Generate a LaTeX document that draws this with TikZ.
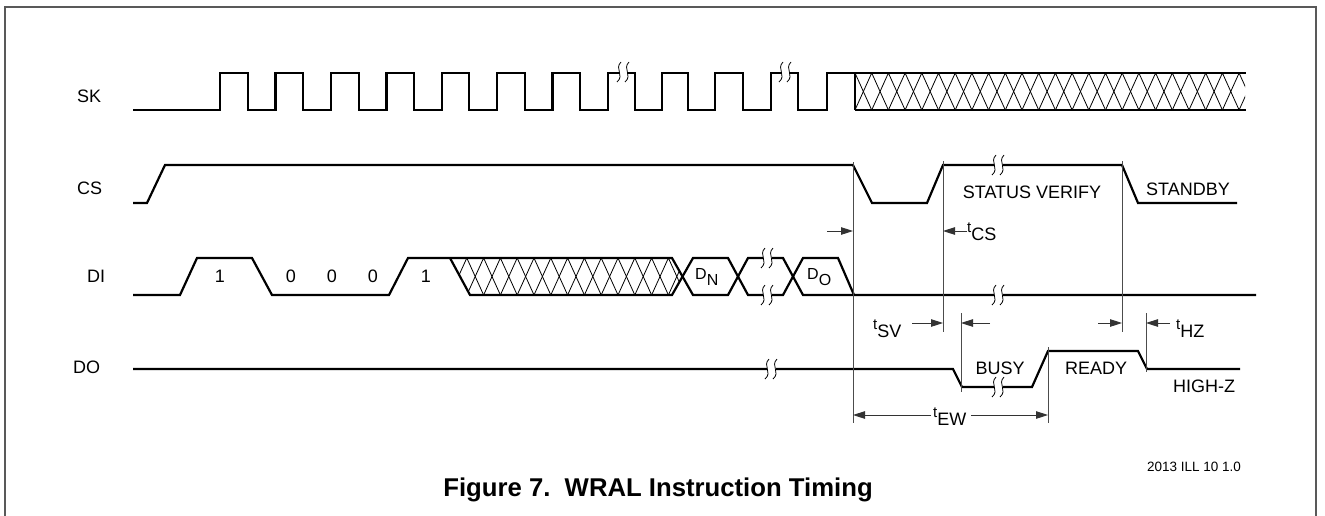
\documentclass[tikz,border=0pt]{standalone}
\usepackage{fontspec}
\setmainfont{Liberation Sans}
\usetikzlibrary{arrows.meta}
\newcommand\brkmark[2]{%
  \fill[white] (#1-4.5,#2-2.2) rectangle (#1+4.5,#2+2.2);
  \draw[brk] (#1-2,#2-10) .. controls (#1-9,#2-3) and (#1+2,#2+3) .. (#1-6,#2+10);
  \draw[brk] (#1+6,#2-10) .. controls (#1-1,#2-3) and (#1+10,#2+3) .. (#1+2,#2+10);
}
\newcommand\tlab[1]{\raisebox{8pt}{\fontsize{15}{15}\selectfont t}#1}
\begin{document}
\begin{tikzpicture}[x=1pt,y=-1pt,
  sig/.style={line width=2.2pt, line join=miter},
  thinl/.style={line width=0.9pt, black!70},
  hatchl/.style={line width=0.8pt},
  brk/.style={line width=0.8pt},
  arr/.style={line width=0.9pt, black!80, -{Triangle[length=12pt,width=7.5pt]}},
  lbl/.style={font=\fontsize{18}{18}\selectfont, inner sep=0pt},
  sublbl/.style={font=\fontsize{18}{18}\selectfont, inner sep=0pt, anchor=base west},
  dlbl/.style={font=\fontsize{16}{16}\selectfont, inner sep=0pt, anchor=base west}
]
\useasboundingbox (0,0) rectangle (1325,515);
% frame
\draw[line width=1.3pt, black!65] (5,516) -- (5,7) -- (1316,7) -- (1316,516);

% signal names
\node[lbl, anchor=base west] (nSK) at (77,102) {SK};
\node[lbl, anchor=base west] (nCS) at (77,194) {CS};
\node[lbl, anchor=base west] (nDI) at (87,282) {DI};
\node[lbl, anchor=base west] (nDO) at (73,373) {DO};

% ---------- SK ----------
\draw[sig] (133,110) -- (220,110) -- (220,73) -- (248,73) -- (248,110) -- (275.5,110) -- (275.5,73) -- (303,73) -- (303,110)
  -- (331,110) -- (331,73) -- (359,73) -- (359,110) -- (386.5,110) -- (386.5,73) -- (414,73) -- (414,110)
  -- (442,110) -- (442,73) -- (469,73) -- (469,110) -- (497,110) -- (497,73) -- (525,73) -- (525,110)
  -- (552.5,110) -- (552.5,73) -- (580,73) -- (580,110) -- (608,110) -- (608,73) -- (635,73) -- (635,110)
  -- (662,110) -- (662,73) -- (688,73) -- (688,110) -- (715,110) -- (715,73) -- (743,73) -- (743,110)
  -- (771,110) -- (771,73) -- (798,73) -- (798,110) -- (827,110) -- (827,73) -- (855,73) -- (855,110);
\begin{scope}
  \clip (855,73) rectangle (1245,110);
  \foreach \i in {0,...,24} {
    \draw[hatchl] (855+\i*16.7,73) -- ++(16.7,37) (855+\i*16.7,73) -- ++(-16.7,37);
  }
\end{scope}
\draw[sig] (855,73) -- (1246,73);
\draw[sig] (855,110) -- (1246,110);
\brkmark{623}{72}
\brkmark{785}{72}

% ---------- CS ----------
\draw[sig] (133,203) -- (147,203) -- (165,165) -- (853,165) -- (872,203) -- (927,203) -- (943,165)
  -- (1122,165) -- (1138,203) -- (1237,203);
\brkmark{998}{165}
\node[lbl, anchor=base] (sv) at (1032,198) {STATUS VERIFY};
\node[lbl, anchor=base] (sb) at (1188,195) {STANDBY};

% ---------- DI ----------
\begin{scope}
  \clip (450,258) -- (672,258) -- (682.5,276.5) -- (672,295) -- (470,295) -- cycle;
  \foreach \i in {0,...,15} {
    \draw[hatchl] (450+\i*16.8,258) -- ++(16.8,37) (450+\i*16.8,258) -- ++(-16.8,37);
  }
\end{scope}
\draw[sig] (133,295) -- (180,295) -- (197,258) -- (252,258) -- (272,295) -- (389,295) -- (408,258)
  -- (672,258) -- (693,295) -- (728,295) -- (748,258) -- (783,258) -- (803,295) -- (1256,295);
\draw[sig] (450,258) -- (470,295) -- (672,295) -- (693,258) -- (728,258) -- (748,295) -- (783,295)
  -- (803,258) -- (838,258) -- (854,295);
\brkmark{767}{258}
\brkmark{767}{295}
\brkmark{998}{295}
\node[lbl, anchor=base] (b1) at (220,282) {1};
\node[lbl, anchor=base] (b2) at (291,282) {0};
\node[lbl, anchor=base] (b3) at (332,282) {0};
\node[lbl, anchor=base] (b4) at (373,282) {0};
\node[lbl, anchor=base] (b5) at (426,282) {1};
\node[dlbl] (dn) at (695,279) {D\raisebox{-6.5pt}{N}};
\node[dlbl] (do) at (807,279) {D\raisebox{-6.5pt}{O}};

% ---------- DO ----------
\draw[sig] (133,369) -- (953,369) -- (962,387) -- (1032,387) -- (1048,351) -- (1138,351) -- (1147,369) -- (1240,369);
\brkmark{771}{369}
\brkmark{998}{387}
\node[lbl, anchor=base] (busy) at (1000,374) {BUSY};
\node[lbl, anchor=base] (ready) at (1096,374) {READY};
\node[lbl, anchor=base] (hz) at (1204,392) {HIGH-Z};

% ---------- timing markers ----------
\coordinate (vA) at (853,162);  \coordinate (vAb) at (853,423);
\coordinate (vB) at (943,161);  \coordinate (vBb) at (943,332);
\coordinate (vC) at (1122,161); \coordinate (vCb) at (1122,332);
\coordinate (vD) at (961,313);  \coordinate (vDb) at (961,392);
\coordinate (vE) at (1146,313); \coordinate (vEb) at (1146,372);
\coordinate (vF) at (1048,347); \coordinate (vFb) at (1048,423);
\draw[thinl] (vA) -- (vAb);
\draw[thinl] (vB) -- (vBb);
\draw[thinl] (vC) -- (vCb);
\draw[thinl] (vD) -- (vDb);
\draw[thinl] (vE) -- (vEb);
\draw[thinl] (vF) -- (vFb);

% tCS
\coordinate (csT) at (827,231);
\draw[arr] (csT) -- (853,231);
\node[sublbl] (tcs) at (967,240) {\tlab{CS}};
\draw[arr] (967,231) -- (943,231);
% tSV
\node[sublbl] (tsv) at (873,337) {\tlab{SV}};
\draw[arr] (912,323) -- (943,323);
\draw[arr] (990,323) -- (961,323);
% tHZ
\draw[arr] (1098,323) -- (1122,323);
\draw[arr] (1170,323) -- (1146,323);
\node[sublbl] (thz) at (1176,337) {\tlab{HZ}};
% tEW
\node[sublbl] (tew) at (933,425) {\tlab{EW}};
\draw[arr] (931,415) -- (853,415);
\draw[arr] (971,415) -- (1048,415);

% footnote and title
\node[font=\fontsize{13.5}{14}\selectfont, inner sep=0pt, anchor=base] (ill) at (1194,471) {2013 ILL 10 1.0};
\node[font=\bfseries\fontsize{25.7}{26}\selectfont, inner sep=0pt, anchor=base] (title) at (658,496) {Figure 7.\ \ WRAL Instruction Timing};
\end{tikzpicture}
\end{document}
